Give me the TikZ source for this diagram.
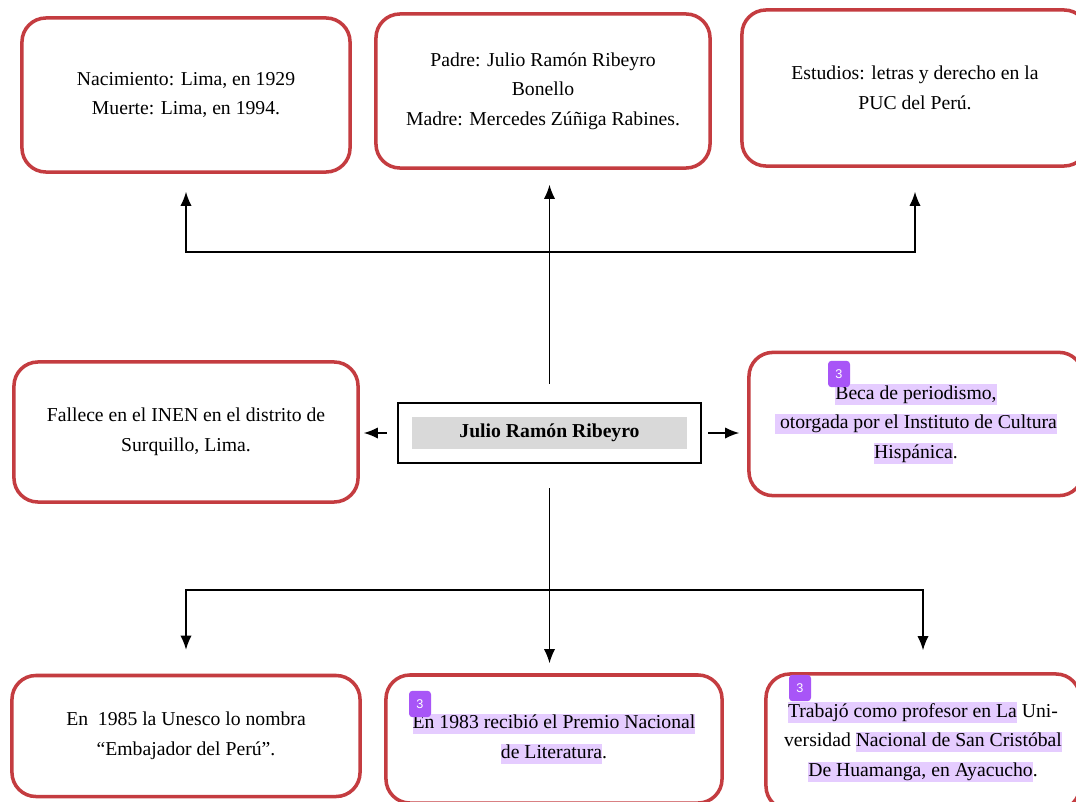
\documentclass[tikz,border=0pt]{standalone}
\usepackage{fontspec}
\setmainfont{Liberation Serif}
\setsansfont{Liberation Sans}
\usetikzlibrary{arrows.meta,fit}
\definecolor{boxred}{RGB}{196,60,64}
\definecolor{hlpurple}{RGB}{229,204,255}
\definecolor{badgepurple}{RGB}{168,85,247}
\definecolor{namegray}{RGB}{217,217,217}
\newcommand{\hlmark}[1]{{\setlength{\fboxsep}{0pt}\colorbox{hlpurple}{\rule[-0.27em]{0pt}{1.02em}#1}}}

\begin{document}
\begin{tikzpicture}[x=0.025cm,y=-0.025cm,
        infobox/.style={draw=boxred,line width=2.5pt,rounded corners=0.6cm,align=center,
          font=\fontsize{14}{21}\selectfont,inner sep=0pt},
        link/.style={line width=1pt,-{Latex[length=10pt,width=8pt]}},
        badge/.style={fill=badgepurple,rounded corners=2.5pt,text=white,minimum width=0.55cm,
          minimum height=0.66cm,inner sep=0pt,font=\sffamily\fontsize{9}{10}\selectfont}]
        \useasboundingbox (0,0) rectangle (1076,801);
        \clip (0,0) rectangle (1076,801);
        \fill[white] (0,0) rectangle (1076,801);

        \node[infobox,minimum width=8.2cm,minimum height=3.85cm] (tl) at (186,95)
          {Nacimiento: Lima, en 1929\\Muerte: Lima, en 1994.};
        \node[infobox,minimum width=8.35cm,minimum height=3.85cm] (tm) at (543,91)
          {Padre: Julio Ramón Ribeyro\\Bonello\\Madre: Mercedes Zúñiga Rabines.};
        \node[infobox,minimum width=8.65cm,minimum height=3.9cm] (tr) at (915,88)
          {Estudios: letras y derecho en la\\PUC del Perú.};
        \node[infobox,minimum width=8.6cm,minimum height=3.5cm] (ml) at (186,432)
          {Fallece en el INEN en el distrito de\\Surquillo, Lima.};
        \node[infobox,minimum width=8.35cm,minimum height=3.58cm] (mr) at (916,424)
          {\hlmark{Beca de periodismo,}\\\hlmark{ otorgada por el Instituto de Cultura}\\\hlmark{Hispánica}.};
        \node[infobox,minimum width=8.7cm,minimum height=3.025cm] (bl) at (186,736)
          {En~ 1985 la Unesco lo nombra\\“Embajador del Perú”.};
        \node[infobox,minimum width=8.4cm,minimum height=3.2cm] (bm) at (554,739)
          {\hlmark{En 1983 recibió el Premio Nacional}\\\hlmark{de Literatura}.};
        \node[infobox,minimum width=7.85cm,minimum height=3.4cm] (br) at (923,742)
          {\hlmark{Trabajó como profesor en La} Uni-\\versidad \hlmark{Nacional de San Cristóbal}\\\hlmark{De Huamanga, en Ayacucho}.};

        \node[fill=namegray,minimum width=6.875cm,minimum height=0.8cm,inner sep=0pt,
          font=\bfseries\fontsize{14}{17}\selectfont] (jrr) at (549.5,433) {Julio Ramón Ribeyro};
        \node[draw,line width=1.4pt,fit=(jrr),inner sep=0.35cm] (jrrframe) {};

        \draw[link,shorten <=0.45cm,shorten >=0.375cm] (jrrframe.north) -- (jrrframe.north |- tm.south);
        \coordinate (topbar) at (jrrframe.north |- 0,252);
        \draw[link,shorten >=0.45cm] (topbar) -| (tl.south);
        \draw[link,shorten >=0.6cm] (topbar) -| (tr.south);
        \draw[link,shorten <=0.25cm,shorten >=0.1cm] (jrrframe.west) -- (jrrframe.west -| ml.east);
        \draw[link,shorten <=0.15cm,shorten >=0.2cm] (jrrframe.east) -- (jrrframe.east -| mr.west);
        \draw[link,shorten <=0.6cm,shorten >=0.25cm] (jrrframe.south) -- (jrrframe.south |- bm.north);
        \coordinate (botbar) at (jrrframe.south |- 0,590);
        \draw[link,shorten >=0.6cm] (botbar) -| (bl.north);
        \draw[link,shorten >=0.55cm] (botbar) -| (br.north);

        \node[badge] (badgemr) at (839,374) {3};
        \node[badge] (badgebm) at (420,704) {3};
        \node[badge] (badgebr) at (800,688) {3};
\end{tikzpicture}
\end{document}
